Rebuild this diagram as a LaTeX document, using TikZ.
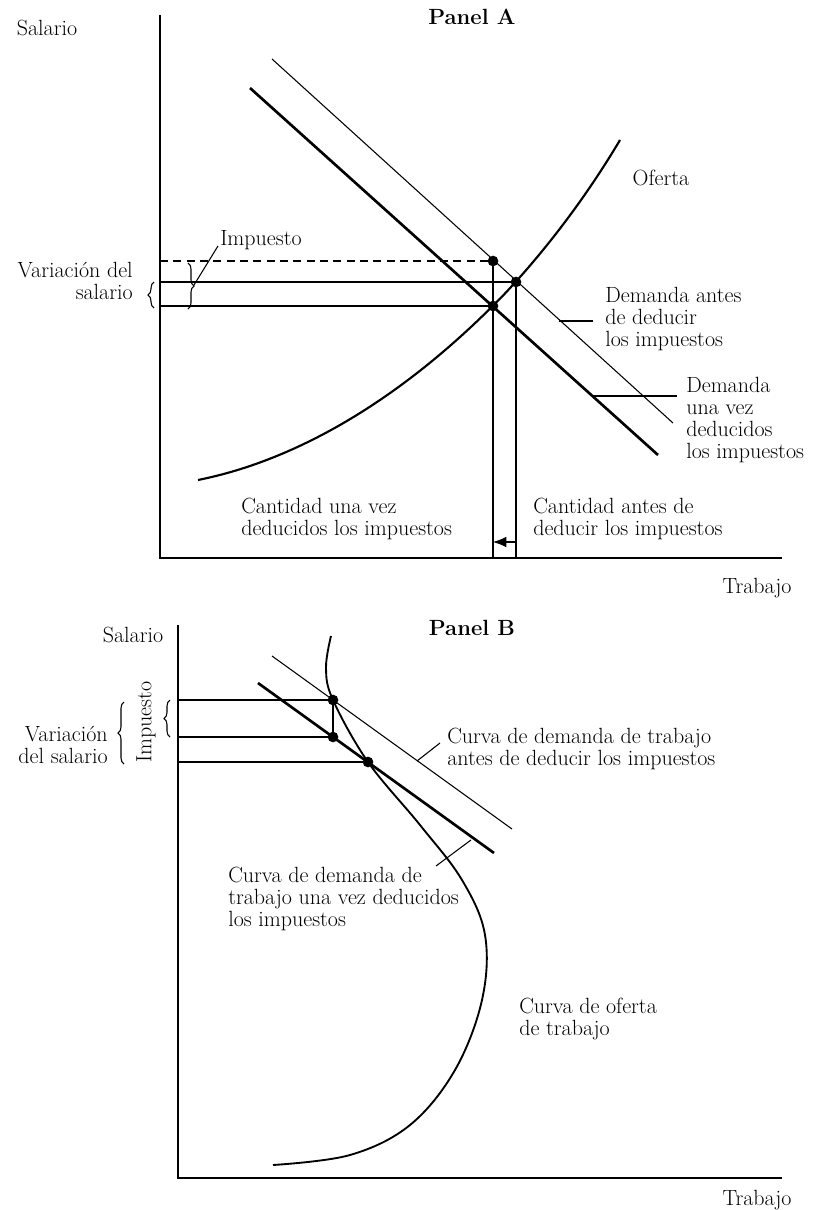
\documentclass[tikz,border=0pt]{standalone}
\usepackage{fontspec}
\usetikzlibrary{arrows.meta,decorations.pathreplacing}
\begin{document}
\begin{tikzpicture}[x=0.75pt,y=-0.75pt,
  lbl/.style={font=\fontsize{16.5}{16.3}\selectfont,inner sep=0pt,align=left},
  ttl/.style={font=\fontsize{16.5}{16.3}\selectfont\bfseries,inner sep=0pt},
  thickline/.style={line width=2pt},
  thinline/.style={line width=0.8pt},
  axis/.style={line width=1.1pt},
  tbrace/.style={decorate,decoration={brace,amplitude=4.5pt},line width=0.8pt}]
  \useasboundingbox (0,0) rectangle (822,1210);
  % Panel A
  \coordinate (oA) at (160,558);
  \draw[axis] (160,15) -- (oA) -- (782,558);
  \node[lbl] (salA) at (47,28) {Salario};
  \node[ttl] (panA) at (472,17) {Panel A};
  \node[lbl] (trabA) at (757,588) {Trabajo};
  \coordinate (A1) at (493,261);
  \coordinate (A2) at (516,282);
  \coordinate (A3) at (493,306);
  \draw[thinline] (272,59) -- (673,423);
  \draw[thickline] (250,88) -- (658,455);
  \draw[line width=1.6pt] (198,480) .. controls (298,460) and (404,398) .. (504.5,294)
    .. controls (544,252) and (585,199) .. (620,140);
  \draw[thinline,dash pattern=on 6pt off 4pt] (160,261) -- (A1);
  \draw[thinline] (160,282) -- (A2) (160,306) -- (A3);
  \coordinate (qA1) at (493,558);
  \coordinate (qA2) at (516,558);
  \draw[line width=1.1pt] (A1) -- (qA1) (A2) -- (qA2);
  \coordinate (arrS) at (516,542);
  \coordinate (arrE) at (493,542);
  \draw[thinline,-{Latex[length=10pt,width=8pt]}] (arrS) -- (arrE);
  \foreach \p in {A1,A2,A3} \fill (\p) circle (4pt);
  \draw[tbrace] (188,263) -- (188,309);
  \node[lbl,anchor=west] (impA) at (220,240) {Impuesto};
  \coordinate (bA) at (194,285);
  \draw[thinline] (bA) -- (218,246);
  \draw[tbrace] (154,308) -- (154,282);
  \node[lbl,anchor=east,align=right] (varA) at (133,281) {Variación del\\salario};
  \node[lbl] (ofA) at (661,178) {Oferta};
  \node[lbl,anchor=west] (demA) at (605,319) {Demanda antes\\de deducir\\los impuestos};
  \coordinate (lA1) at (559,321);
  \draw[thinline] (lA1) -- (593,321);
  \node[lbl,anchor=west] (demB) at (686,420) {Demanda\\una vez\\deducidos\\los impuestos};
  \coordinate (lA2) at (592,396);
  \draw[thinline] (lA2) -- (677,396);
  \node[lbl,anchor=west] (canA) at (241,519) {Cantidad una vez\\deducidos los impuestos};
  \node[lbl,anchor=west] (canB) at (533,519) {Cantidad antes de\\deducir los impuestos};
  % Panel B
  \coordinate (oB) at (178,1178);
  \draw[axis] (178,625) -- (oB) -- (782,1178);
  \node[lbl] (salB) at (133,635) {Salario};
  \node[ttl] (panB) at (472,628) {Panel B};
  \node[lbl] (trabB) at (757,1200) {Trabajo};
  \coordinate (B1) at (333,700);
  \coordinate (B2) at (333,737);
  \coordinate (B3) at (368,762);
  \draw[thinline] (272,656) -- (512,829);
  \draw[thickline] (258,683) -- (494,853);
  \draw[line width=1.4pt] plot[smooth,tension=0.6] coordinates {(331,636) (326,668)
    (333,700) (368,762) (420,825) (462,880) (485,935) (482,1000) (455,1070)
    (410,1125) (350,1155) (273,1165)};
  \draw[line width=1.1pt] (178,700) -- (B1) (178,762) -- (B3);
  \draw[thinline] (178,737) -- (B2) (B1) -- (B2);
  \foreach \p in {B1,B2,B3} \fill (\p) circle (4pt);
  \draw[tbrace] (170,737) -- (170,700);
  \node[lbl,rotate=90] (impB) at (146,722) {Impuesto};
  \draw[tbrace] (124,764) -- (124,702);
  \node[lbl,anchor=east,align=right] (varB) at (108,745) {Variación\\del salario};
  \node[lbl,anchor=west] (cdB) at (447,749) {Curva de demanda de trabajo\\antes de deducir los impuestos};
  \coordinate (lB1) at (417,761);
  \draw[thinline] (lB1) -- (440,743);
  \node[lbl,anchor=west] (cdA) at (228,899) {Curva de demanda de\\trabajo una vez deducidos\\los impuestos};
  \coordinate (lB2) at (471,840);
  \draw[thinline] (lB2) -- (436,866);
  \node[lbl,anchor=west] (coB) at (519,1019) {Curva de oferta\\de trabajo};
\end{tikzpicture}
\end{document}
